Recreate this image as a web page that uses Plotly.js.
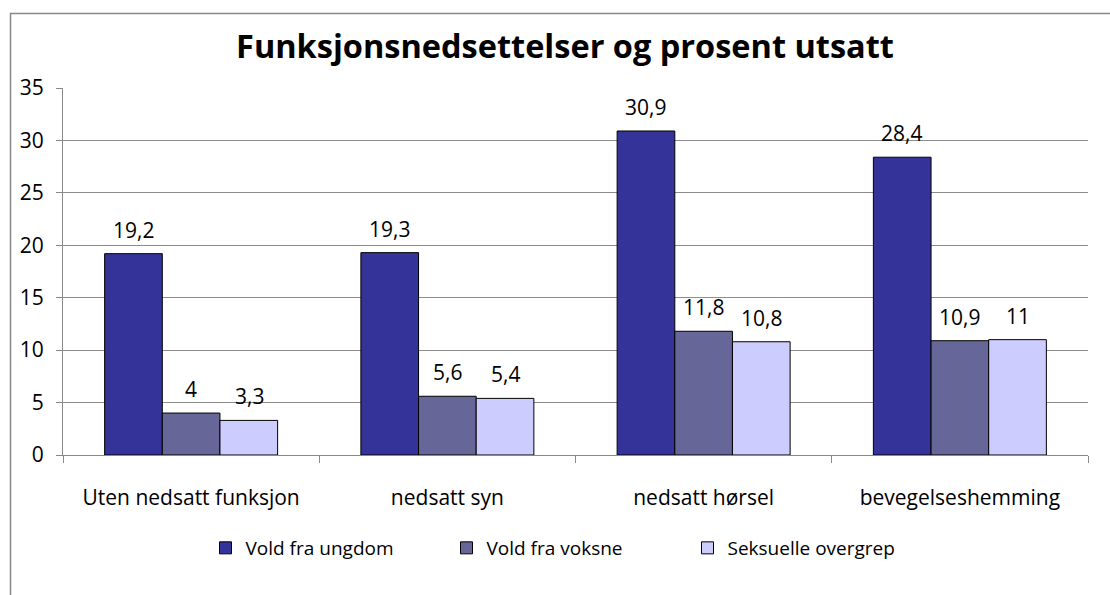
<!DOCTYPE html>
<html>
<head>
<meta charset="utf-8">
<script src="https://cdn.plot.ly/plotly-3.0.1.min.js"></script>
<style>html,body{margin:0;padding:0;background:#fff;}#chart{width:1110px;height:595px;}</style>
</head>
<body>
<div id="chart"></div>
<script>
const categories = ["Uten nedsatt funksjon", "nedsatt syn", "nedsatt hørsel", "bevegelseshemming"];
const seriesNames = ["Vold fra ungdom", "Vold fra voksne", "Seksuelle overgrep"];
const ungdom = [19.2, 19.3, 30.9, 28.4];
const voksne = [4, 5.6, 11.8, 10.9];
const overgrep = [3.3, 5.4, 10.8, 11];
const yTicks = [0, 5, 10, 15, 20, 25, 30, 35];
const colors = ["#333399", "#666699", "#CCCCFF"];

const allSeries = [ungdom, voksne, overgrep];
const FONT = "Open Sans, Noto Sans, sans-serif";

const traces = allSeries.map((vals, i) => ({
  type: "bar",
  name: seriesNames[i],
  x: categories,
  y: vals,
  marker: { color: colors[i], line: { color: "#000000", width: 1 } },
  hoverinfo: "none"
}));

const offsets = [-58, 0, 58];
const annotations = [];
allSeries.forEach((vals, i) => {
  vals.forEach((v, j) => {
    annotations.push({
      x: categories[j], y: v, xref: "x", yref: "y",
      text: String(v).replace(".", ","),
      showarrow: false, yanchor: "bottom", xshift: offsets[i], yshift: 8,
      font: { family: FONT, size: 21, color: "#000" }
    });
  });
});

const W = 1110, H = 595, L = 63, R = 22, T = 88, B = 140;
const pw = W - L - R, ph = H - T - B;
const px2x = p => (p - L) / pw;
const py2y = p => 1 - (p - T) / ph;

const layout = {
  width: W, height: H,
  margin: { l: L, r: R, t: T, b: B, autoexpand: false },
  paper_bgcolor: "#ffffff", plot_bgcolor: "#ffffff",
  separators: ",.",
  title: {
    text: "<b>Funksjonsnedsettelser og prosent utsatt</b>",
    font: { family: FONT, size: 32.5, color: "#000" },
    xref: "container", x: 565 / W, xanchor: "center",
    yref: "container", y: 1 - 47 / H, yanchor: "middle"
  },
  bargap: 0.325, bargroupgap: 0,
  barmode: "group",
  xaxis: {
    type: "category",
    showline: true, linecolor: "#888888", linewidth: 1,
    ticks: "outside", tickson: "boundaries", ticklen: 7, tickcolor: "#888888",
    tickfont: { family: FONT, size: 21, color: "#000" },
    ticklabelstandoff: 24, tickangle: 0, automargin: false,
    showgrid: false, zeroline: false, fixedrange: true
  },
  yaxis: {
    range: [0, 35], tickvals: yTicks, ticktext: yTicks.map(String),
    showline: true, linecolor: "#888888", linewidth: 1,
    ticks: "outside", ticklen: 6, tickcolor: "#888888",
    showgrid: true, gridcolor: "#8c8c8c", gridwidth: 1,
    zeroline: false, automargin: false,
    tickfont: { family: FONT, size: 21, color: "#000" },
    ticklabelstandoff: 8, fixedrange: true
  },
  showlegend: true,
  legend: {
    orientation: "h", x: px2x(567), xanchor: "center",
    y: py2y(548), yanchor: "middle",
    font: { family: FONT, size: 19, color: "#000" },
    entrywidth: 196, traceorder: "normal"
  },
  annotations: annotations,
  shapes: [{
    type: "rect", xref: "paper", yref: "paper",
    x0: px2x(10.5), x1: px2x(1120), y0: py2y(605), y1: py2y(13.5),
    line: { color: "#888888", width: 1.5 }, fillcolor: "rgba(0,0,0,0)", layer: "below"
  }]
};

Plotly.newPlot("chart", traces, layout, { displayModeBar: false, staticPlot: true });
</script>
</body>
</html>
